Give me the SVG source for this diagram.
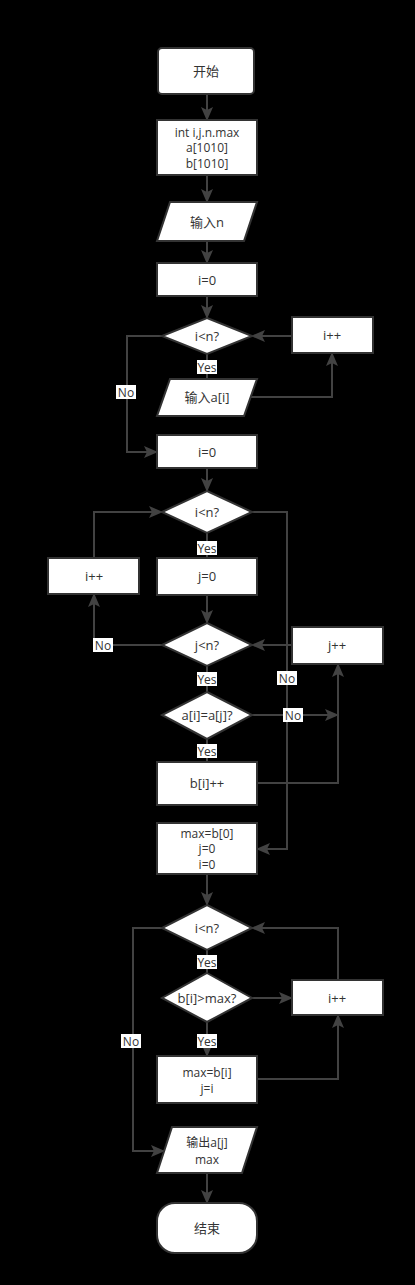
<svg xmlns="http://www.w3.org/2000/svg" width="415" height="1285" viewBox="0 0 415 1285">
<style>
.bg{fill:#000}
.n{fill:#fff;stroke:#333;stroke-width:2}
.t{font-family:"Open Sans","Noto Sans CJK SC",sans-serif;font-size:13px;fill:#333;text-anchor:middle;dominant-baseline:central}
.m{font-size:12px}
.c{fill:none;stroke:#424242;stroke-width:2}
.a{marker-end:url(#ah)}
.lb{fill:#fff}
.lt{font-family:"Open Sans","Noto Sans CJK SC",sans-serif;font-size:12px;fill:#333;text-anchor:middle;dominant-baseline:central}
</style>
<defs>
<marker id="ah" markerUnits="userSpaceOnUse" markerWidth="14" markerHeight="12" refX="13" refY="6" orient="auto"><path d="M0,0 L14,6 L0,12 L3,6 z" fill="#424242"/></marker>
</defs>
<rect class="bg" x="0" y="0" width="415" height="1285"/>
<g id="connectors">
<path class="c a" d="M207,94 V120"/>
<path class="c a" d="M207,175 V202"/>
<path class="c a" d="M207,241 V263"/>
<path class="c a" d="M207,296 V318"/>
<path class="c a" d="M292,336 H252"/>
<path class="c" d="M207,354 V379"/>
<path class="c a" d="M250,397 H332 V353"/>
<path class="c a" d="M162,336 H127 V452 H157"/>
<path class="c a" d="M207,468 V491"/>
<path class="c a" d="M252,512 H287 V849 H257"/>
<path class="c" d="M207,533 V558"/>
<path class="c a" d="M94,558 V512 H162"/>
<path class="c a" d="M207,595 V623"/>
<path class="c a" d="M292,645 H252"/>
<path class="c a" d="M162,645 H94 V594"/>
<path class="c" d="M207,666 V692"/>
<path class="c a" d="M252,715 H338"/>
<path class="c" d="M207,739 V762"/>
<path class="c a" d="M257,783 H338 V664"/>
<path class="c a" d="M207,874 V905"/>
<path class="c a" d="M338,980 V928 H252"/>
<path class="c a" d="M162,928 H133 V1151 H164"/>
<path class="c" d="M207,950 V973"/>
<path class="c a" d="M252,998 H292"/>
<path class="c a" d="M207,1022 V1056"/>
<path class="c a" d="M257,1079 H338 V1015"/>
<path class="c a" d="M207,1173 V1203"/>
<g id="labels">
<rect class="lb" x="197" y="360" width="20" height="14"/><text class="lt" x="207" y="367">Yes</text>
<rect class="lb" x="116" y="385" width="20" height="14"/><text class="lt" x="126" y="392">No</text>
<rect class="lb" x="197" y="541" width="20" height="14"/><text class="lt" x="207" y="548">Yes</text>
<rect class="lb" x="277" y="671" width="20" height="14"/><text class="lt" x="287" y="678">No</text>
<rect class="lb" x="93" y="638" width="20" height="14"/><text class="lt" x="103" y="645">No</text>
<rect class="lb" x="197" y="672" width="20" height="14"/><text class="lt" x="207" y="679">Yes</text>
<rect class="lb" x="283" y="708" width="20" height="14"/><text class="lt" x="293" y="715">No</text>
<rect class="lb" x="197" y="744" width="20" height="14"/><text class="lt" x="207" y="751">Yes</text>
<rect class="lb" x="197" y="955" width="20" height="14"/><text class="lt" x="207" y="962">Yes</text>
<rect class="lb" x="121" y="1034" width="20" height="14"/><text class="lt" x="131" y="1041">No</text>
<rect class="lb" x="197" y="1034" width="20" height="14"/><text class="lt" x="207" y="1041">Yes</text>
</g>
</g>
<g id="start"><rect class="n" x="158" y="48" width="96" height="46" rx="4"/><text class="t" x="206" y="71">开始</text></g>
<g id="decl"><rect class="n" x="157" y="120" width="100" height="55"/><text class="t m" x="207" y="132">int i,j.n.max</text><text class="t m" x="207" y="147.5">a[1010]</text><text class="t m" x="207" y="163">b[1010]</text></g>
<g id="inputn"><polygon class="n" points="170,202 257,202 244,241 157,241"/><text class="t" x="207" y="222">输入n</text></g>
<g id="i0a"><rect class="n" x="157" y="263" width="100" height="33"/><text class="t" x="207" y="280">i=0</text></g>
<g id="cond1"><polygon class="n" points="207,318 252,336 207,354 162,336"/><text class="t" x="207" y="336">i&lt;n?</text></g>
<g id="inc1"><rect class="n" x="292" y="317" width="81" height="36"/><text class="t" x="332" y="335">i++</text></g>
<g id="inputa"><polygon class="n" points="170,379 257,379 244,416 157,416"/><text class="t" x="207" y="397">输入a[i]</text></g>
<g id="i0b"><rect class="n" x="157" y="435" width="100" height="33"/><text class="t" x="207" y="452">i=0</text></g>
<g id="cond2"><polygon class="n" points="207,491 252,512 207,533 162,512"/><text class="t" x="207" y="512">i&lt;n?</text></g>
<g id="inc2"><rect class="n" x="48" y="558" width="91" height="36"/><text class="t" x="94" y="576">i++</text></g>
<g id="j0"><rect class="n" x="157" y="558" width="100" height="37"/><text class="t" x="207" y="576">j=0</text></g>
<g id="cond3"><polygon class="n" points="207,623 252,645 207,666 162,645"/><text class="t" x="207" y="645">j&lt;n?</text></g>
<g id="incj"><rect class="n" x="292" y="627" width="91" height="37"/><text class="t" x="337" y="645">j++</text></g>
<g id="cond4"><polygon class="n" points="207,692 252,715 207,739 162,715"/><text class="t" x="207" y="715">a[i]=a[j]?</text></g>
<g id="binc"><rect class="n" x="157" y="762" width="100" height="43"/><text class="t" x="207" y="783">b[i]++</text></g>
<g id="maxinit"><rect class="n" x="157" y="823" width="100" height="51"/><text class="t m" x="207" y="833">max=b[0]</text><text class="t m" x="207" y="848.5">j=0</text><text class="t m" x="207" y="864">i=0</text></g>
<g id="cond5"><polygon class="n" points="207,905 252,928 207,950 162,928"/><text class="t" x="207" y="928">i&lt;n?</text></g>
<g id="cond6"><polygon class="n" points="207,973 252,998 207,1022 162,998"/><text class="t" x="207" y="998">b[i]&gt;max?</text></g>
<g id="inc3"><rect class="n" x="292" y="980" width="91" height="35"/><text class="t" x="337" y="998">i++</text></g>
<g id="maxset"><rect class="n" x="157" y="1056" width="100" height="47"/><text class="t m" x="207" y="1072">max=b[i]</text><text class="t m" x="207" y="1088">j=i</text></g>
<g id="output"><polygon class="n" points="172,1127 257,1127 242,1173 157,1173"/><text class="t m" x="207" y="1142">输出a[j]</text><text class="t m" x="207" y="1159">max</text></g>
<g id="end"><rect class="n" x="157" y="1203" width="100" height="50" rx="18"/><text class="t" x="207" y="1228">结束</text></g>
</svg>
